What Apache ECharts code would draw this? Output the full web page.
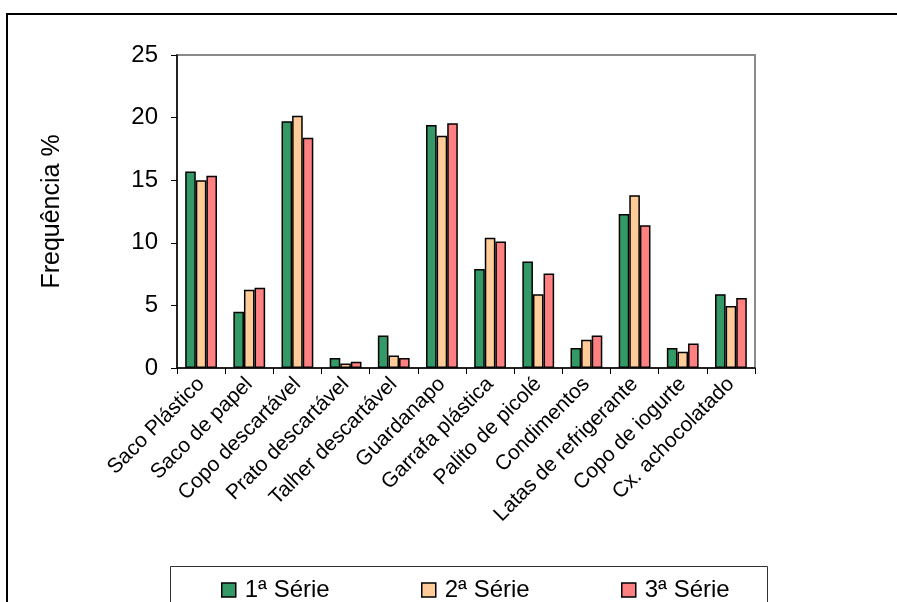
<!DOCTYPE html>
<html>
<head>
<meta charset="utf-8">
<script src="https://cdn.jsdelivr.net/npm/echarts@6/dist/echarts.min.js"></script>
<style>
  html, body { margin: 0; padding: 0; background: #fff; }
  #chart { width: 897px; height: 602px; }
</style>
</head>
<body>
<div id="chart"></div>
<script>
// Categories of discarded items
const categories = [
  'Saco Plástico', 'Saco de papel', 'Copo descartável', 'Prato descartável',
  'Talher descartável', 'Guardanapo', 'Garrafa plástica', 'Palito de picolé',
  'Condimentos', 'Latas de refrigerante', 'Copo de iogurte', 'Cx. achocolatado'
];

// Frequency (%) for each series
const serie1 = [15.7, 4.5, 19.7, 0.8, 2.6, 19.4, 7.9, 8.5, 1.6, 12.3, 1.6, 5.9];
const serie2 = [15.0, 6.25, 20.15, 0.35, 1.0, 18.55, 10.4, 5.9, 2.25, 13.8, 1.3, 4.95];
const serie3 = [15.35, 6.4, 18.4, 0.5, 0.8, 19.55, 10.1, 7.55, 2.6, 11.4, 1.95, 5.6];

const seriesNames = ['1ª Série', '2ª Série', '3ª Série'];
const yTicks = { min: 0, max: 25, interval: 5 };

const FONT = 'Liberation Sans';
const colors = ['#339966', '#FFCC99', '#FF8080'];

const chart = echarts.init(document.getElementById('chart'));

function bar(name, data, color) {
  return {
    name: name,
    type: 'bar',
    data: data,
    barGap: '0%',
    barCategoryGap: '34%',
    itemStyle: { color: color, borderColor: '#000', borderWidth: 1.5 },
    emphasis: { disabled: true }
  };
}

// One legend entry per series, laid out across the boxed legend strip
const legendLefts = [216, 416, 616];
const legends = seriesNames.map((n, i) => ({
  data: [n],
  left: legendLefts[i],
  top: 573,
  itemWidth: 14,
  itemHeight: 14,
  icon: 'rect',
  selectedMode: false,
  textStyle: { fontFamily: FONT, fontSize: 24, color: '#000', padding: [0, 0, 0, 4] },
  itemStyle: { borderColor: '#000', borderWidth: 1.5 }
}));

chart.setOption({
  animation: false,
  backgroundColor: '#fff',
  textStyle: { fontFamily: FONT },
  grid: { left: 177, top: 55, right: 142, bottom: 234, containLabel: false },
  graphic: [
    {
      type: 'rect', z: -10, silent: true,
      shape: { x: 7, y: 14, width: 1000, height: 1000 },
      style: { fill: '#fff', stroke: '#000', lineWidth: 2 }
    },
    {
      type: 'rect', z: -5, silent: true,
      shape: { x: 177, y: 55, width: 578, height: 313 },
      style: { fill: 'none', stroke: '#8a8a8a', lineWidth: 2 }
    },
    {
      type: 'rect', z: -5, silent: true,
      shape: { x: 170.5, y: 566.5, width: 597, height: 60 },
      style: { fill: '#fff', stroke: '#333', lineWidth: 1 }
    }
  ],
  legend: legends,
  xAxis: {
    type: 'category',
    data: categories,
    axisLine: { lineStyle: { color: '#000', width: 1.5 } },
    axisTick: { show: true, inside: false, length: 6, lineStyle: { color: '#000' } },
    axisLabel: {
      interval: 0, rotate: 45, margin: 13,
      fontFamily: FONT, fontSize: 21, color: '#000'
    },
    splitLine: { show: false }
  },
  yAxis: {
    type: 'value',
    min: yTicks.min, max: yTicks.max, interval: yTicks.interval,
    name: 'Frequência %',
    nameLocation: 'middle',
    nameGap: 112,
    nameRotate: 90,
    nameTextStyle: { fontFamily: FONT, fontSize: 25, color: '#000' },
    axisLine: { show: true, lineStyle: { color: '#000', width: 1.5 } },
    axisTick: { show: true, inside: false, length: 6, lineStyle: { color: '#000' } },
    axisLabel: { margin: 19, fontFamily: FONT, fontSize: 24, color: '#000' },
    splitLine: { show: false }
  },
  series: [
    bar(seriesNames[0], serie1, colors[0]),
    bar(seriesNames[1], serie2, colors[1]),
    bar(seriesNames[2], serie3, colors[2])
  ]
});
</script>
</body>
</html>
